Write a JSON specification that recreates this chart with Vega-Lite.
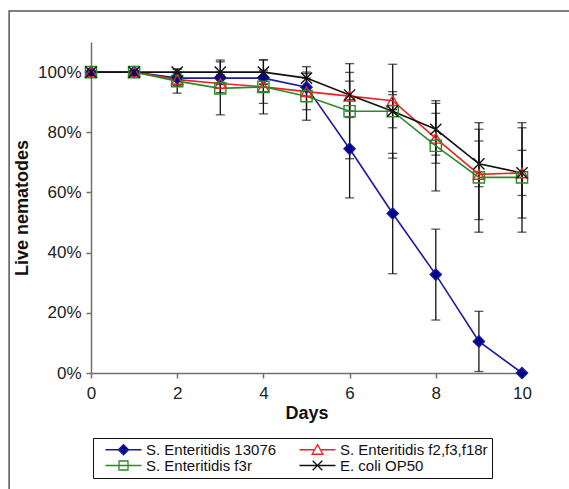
{
  "$schema": "https://vega.github.io/schema/vega-lite/v6.json",
  "width": 431,
  "height": 331,
  "autosize": {"type": "none"},
  "padding": {"left": 91, "top": 42, "right": 47, "bottom": 116},
  "background": "white",
  "config": {
    "view": {"stroke": null},
    "font": "Liberation Sans",
    "axis": {
      "grid": false,
      "domainColor": "#707070",
      "domainWidth": 1.5,
      "tickColor": "#707070",
      "tickWidth": 1.5,
      "tickSize": 5,
      "labelFont": "Liberation Sans",
      "labelFontSize": 17,
      "labelColor": "#222222",
      "labelFlush": false,
      "titleFont": "Liberation Sans",
      "titleFontSize": 18,
      "titleFontWeight": "bold",
      "titleColor": "#111111"
    },
    "legend": {
      "orient": "none",
      "legendX": 2,
      "legendY": 396,
      "direction": "horizontal",
      "columns": 2,
      "strokeColor": "#111111",
      "padding": 4,
      "labelFont": "Liberation Sans",
      "labelFontSize": 15,
      "labelColor": "#111111",
      "symbolSize": 144,
      "symbolOffset": 19,
      "labelOffset": 15,
      "columnPadding": 14,
      "rowPadding": 0,
      "symbolStrokeWidth": 1.3
    }
  },
  "resolve": {"scale": {"color": "independent", "shape": "independent", "fill": "independent"}},
  "data": {
    "values": [
      {"series": "S. Enteritidis 13076", "day": 0, "value": 1.0, "err": 0},
      {"series": "S. Enteritidis 13076", "day": 1, "value": 1.0, "err": 0},
      {"series": "S. Enteritidis 13076", "day": 2, "value": 0.98, "err": 0.02},
      {"series": "S. Enteritidis 13076", "day": 3, "value": 0.98, "err": 0.02},
      {"series": "S. Enteritidis 13076", "day": 4, "value": 0.98, "err": 0.02},
      {"series": "S. Enteritidis 13076", "day": 5, "value": 0.95, "err": 0.03},
      {"series": "S. Enteritidis 13076", "day": 6, "value": 0.745, "err": 0.163},
      {"series": "S. Enteritidis 13076", "day": 7, "value": 0.53, "err": 0.2},
      {"series": "S. Enteritidis 13076", "day": 8, "value": 0.327, "err": 0.151},
      {"series": "S. Enteritidis 13076", "day": 9, "value": 0.105, "err": 0.1},
      {"series": "S. Enteritidis 13076", "day": 10, "value": 0.0, "err": 0},
      {"series": "S. Enteritidis f2,f3,f18r", "day": 0, "value": 1.0, "err": 0},
      {"series": "S. Enteritidis f2,f3,f18r", "day": 1, "value": 1.0, "err": 0},
      {"series": "S. Enteritidis f2,f3,f18r", "day": 2, "value": 0.975, "err": 0.02},
      {"series": "S. Enteritidis f2,f3,f18r", "day": 3, "value": 0.962, "err": 0.03},
      {"series": "S. Enteritidis f2,f3,f18r", "day": 4, "value": 0.951, "err": 0.055},
      {"series": "S. Enteritidis f2,f3,f18r", "day": 5, "value": 0.935, "err": 0.06},
      {"series": "S. Enteritidis f2,f3,f18r", "day": 6, "value": 0.92, "err": 0.05},
      {"series": "S. Enteritidis f2,f3,f18r", "day": 7, "value": 0.905, "err": 0.03},
      {"series": "S. Enteritidis f2,f3,f18r", "day": 8, "value": 0.78, "err": 0.083},
      {"series": "S. Enteritidis f2,f3,f18r", "day": 9, "value": 0.66, "err": 0.15},
      {"series": "S. Enteritidis f2,f3,f18r", "day": 10, "value": 0.665, "err": 0.15},
      {"series": "S. Enteritidis f3r", "day": 0, "value": 1.0, "err": 0},
      {"series": "S. Enteritidis f3r", "day": 1, "value": 1.0, "err": 0},
      {"series": "S. Enteritidis f3r", "day": 2, "value": 0.97, "err": 0.04},
      {"series": "S. Enteritidis f3r", "day": 3, "value": 0.946, "err": 0.088},
      {"series": "S. Enteritidis f3r", "day": 4, "value": 0.951, "err": 0.09},
      {"series": "S. Enteritidis f3r", "day": 5, "value": 0.92, "err": 0.08},
      {"series": "S. Enteritidis f3r", "day": 6, "value": 0.87, "err": 0.158},
      {"series": "S. Enteritidis f3r", "day": 7, "value": 0.87, "err": 0.156},
      {"series": "S. Enteritidis f3r", "day": 8, "value": 0.755, "err": 0.15},
      {"series": "S. Enteritidis f3r", "day": 9, "value": 0.65, "err": 0.182},
      {"series": "S. Enteritidis f3r", "day": 10, "value": 0.65, "err": 0.182},
      {"series": "E. coli OP50", "day": 0, "value": 1.0, "err": 0},
      {"series": "E. coli OP50", "day": 1, "value": 1.0, "err": 0},
      {"series": "E. coli OP50", "day": 2, "value": 1.0, "err": 0.01},
      {"series": "E. coli OP50", "day": 3, "value": 1.0, "err": 0.04},
      {"series": "E. coli OP50", "day": 4, "value": 1.0, "err": 0.04},
      {"series": "E. coli OP50", "day": 5, "value": 0.98, "err": 0.038},
      {"series": "E. coli OP50", "day": 6, "value": 0.924, "err": 0.075},
      {"series": "E. coli OP50", "day": 7, "value": 0.87, "err": 0.055},
      {"series": "E. coli OP50", "day": 8, "value": 0.81, "err": 0.086},
      {"series": "E. coli OP50", "day": 9, "value": 0.695, "err": 0.076},
      {"series": "E. coli OP50", "day": 10, "value": 0.665, "err": 0.075}
    ]
  },
  "layer": [
    {
      "data": {"values": [{"frame": "border"}]},
      "mark": {"type": "rect", "fill": null, "stroke": "#555555", "strokeWidth": 1.5, "clip": false},
      "encoding": {
        "x": {"datum": -1.9, "type": "quantitative"},
        "x2": {"datum": 12.5},
        "y": {"datum": 1.203, "type": "quantitative"},
        "y2": {"datum": -0.6}
      }
    },
    {
      "transform": [{"filter": "datum.err > 0"}],
      "mark": {"type": "errorbar", "color": "#111111", "thickness": 1.3, "ticks": {"size": 9, "thickness": 1.3, "color": "#111111"}},
      "encoding": {
        "x": {"field": "day", "type": "quantitative", "title": "Days"},
        "y": {"field": "value", "type": "quantitative", "title": "Live nematodes"},
        "yError": {"field": "err"}
      }
    },
    {
      "mark": {"type": "line", "strokeWidth": 1.6},
      "encoding": {
        "x": {
          "field": "day", "type": "quantitative",
          "scale": {"domain": [0, 10], "nice": false, "zero": false, "padding": 0},
          "axis": {"values": [0, 2, 4, 6, 8, 10], "title": "Days", "labelPadding": 7, "titlePadding": 3}
        },
        "y": {
          "field": "value", "type": "quantitative",
          "scale": {"domain": [0, 1.1], "nice": false, "padding": 0},
          "axis": {"values": [0, 0.2, 0.4, 0.6, 0.8, 1.0], "format": ".0%", "title": "Live nematodes", "labelPadding": 5, "titlePadding": 6}
        },
        "color": {
          "field": "series", "type": "nominal",
          "scale": {
            "domain": ["S. Enteritidis 13076", "S. Enteritidis f2,f3,f18r", "S. Enteritidis f3r", "E. coli OP50"],
            "range": ["#1a1a9c", "#ee2222", "#2a8a2a", "#111111"]
          },
          "legend": null
        }
      }
    },
    {
      "mark": {"type": "point", "filled": false, "strokeWidth": 1.4, "opacity": 1, "size": 125},
      "encoding": {
        "x": {"field": "day", "type": "quantitative", "title": "Days"},
        "y": {"field": "value", "type": "quantitative", "title": "Live nematodes"},
        "color": {
          "field": "series", "type": "nominal",
          "scale": {
            "domain": ["S. Enteritidis 13076", "S. Enteritidis f2,f3,f18r", "S. Enteritidis f3r", "E. coli OP50"],
            "range": ["#1a1a9c", "#ee2222", "#2a8a2a", "#111111"]
          },
          "legend": null
        },
        "shape": {
          "field": "series", "type": "nominal",
          "scale": {
            "domain": ["S. Enteritidis 13076", "S. Enteritidis f2,f3,f18r", "S. Enteritidis f3r", "E. coli OP50"],
            "range": ["diamond", "triangle-up", "square", "M-1,-1L1,1M-1,1L1,-1"]
          },
          "legend": null
        },
        "fill": {
          "field": "series", "type": "nominal",
          "scale": {
            "domain": ["S. Enteritidis 13076", "S. Enteritidis f2,f3,f18r", "S. Enteritidis f3r", "E. coli OP50"],
            "range": ["#00008b", "transparent", "transparent", "transparent"]
          },
          "legend": null
        }
      }
    },
    {
      "transform": [{"filter": "false"}],
      "mark": {"type": "point", "filled": false, "strokeWidth": 1.3, "opacity": 1},
      "encoding": {
        "x": {"field": "day", "type": "quantitative", "title": "Days"},
        "y": {"field": "value", "type": "quantitative", "title": "Live nematodes"},
        "color": {
          "field": "series", "type": "nominal", "title": null,
          "scale": {
            "domain": ["S. Enteritidis 13076", "S. Enteritidis f2,f3,f18r", "S. Enteritidis f3r", "E. coli OP50"],
            "range": ["#1a1a9c", "#ee2222", "#2a8a2a", "#111111"]
          }
        },
        "shape": {
          "field": "series", "type": "nominal", "title": null,
          "scale": {
            "domain": ["S. Enteritidis 13076", "S. Enteritidis f2,f3,f18r", "S. Enteritidis f3r", "E. coli OP50"],
            "range": [
              "M-3,0H3M-0.85,0L0,-0.85L0.85,0L0,0.85Z",
              "M-3,0H-0.6M0.6,0H3M-0.9,0.75L0,-0.85L0.9,0.75Z",
              "M-3,0H3M-0.75,-0.75H0.75V0.75H-0.75Z",
              "M-3,0H3M-0.8,-0.8L0.8,0.8M-0.8,0.8L0.8,-0.8"
            ]
          }
        },
        "fill": {
          "field": "series", "type": "nominal", "title": null,
          "scale": {
            "domain": ["S. Enteritidis 13076", "S. Enteritidis f2,f3,f18r", "S. Enteritidis f3r", "E. coli OP50"],
            "range": ["#00008b", "transparent", "transparent", "transparent"]
          }
        }
      }
    }
  ]
}
